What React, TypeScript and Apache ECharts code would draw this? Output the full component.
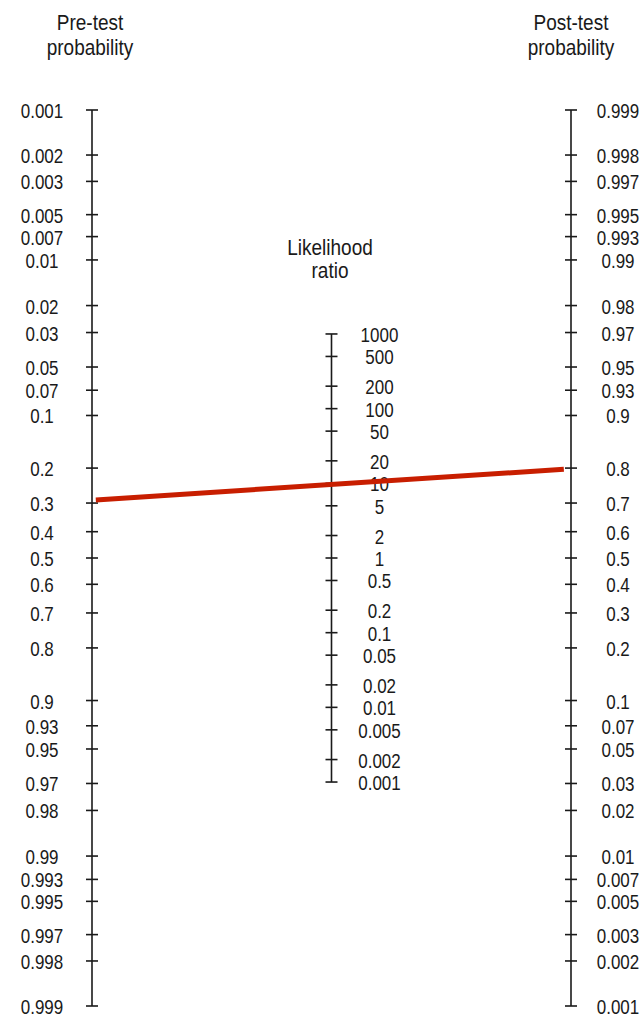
import React, { useEffect, useRef } from "react";
import * as echarts from "echarts";

// Pre-test probability ticks (left axis, top to bottom)
const PRE_TICKS = [0.001, 0.002, 0.003, 0.005, 0.007, 0.01, 0.02, 0.03, 0.05, 0.07, 0.1, 0.2, 0.3, 0.4, 0.5, 0.6, 0.7, 0.8, 0.9, 0.93, 0.95, 0.97, 0.98, 0.99, 0.993, 0.995, 0.997, 0.998, 0.999];
// Likelihood ratio ticks (middle axis, top to bottom)
const LR_TICKS = [1000, 500, 200, 100, 50, 20, 10, 5, 2, 1, 0.5, 0.2, 0.1, 0.05, 0.02, 0.01, 0.005, 0.002, 0.001];
// Post-test probability ticks (right axis, top to bottom)
const POST_TICKS = [0.999, 0.998, 0.997, 0.995, 0.993, 0.99, 0.98, 0.97, 0.95, 0.93, 0.9, 0.8, 0.7, 0.6, 0.5, 0.4, 0.3, 0.2, 0.1, 0.07, 0.05, 0.03, 0.02, 0.01, 0.007, 0.005, 0.003, 0.002, 0.001];
// The drawn line: pre-test probability and post-test probability
const PRE_TEST = 0.29;
const POST_TEST = 0.797;

const FONT = '"Liberation Sans", Arial, sans-serif';
const INK = "#1a1a1a";

const logit = (p: number) => Math.log(p / (1 - p));
const vPre = (p: number) => logit(p);
const vPost = (p: number) => -logit(p);
const vLR = (r: number) => -Math.log(r) / 2;

type Tick = { x: number; v: number; label: string; dx: number };

const ticks: Tick[] = [
  ...PRE_TICKS.map((p) => ({ x: 0, v: vPre(p), label: String(p), dx: -50 })),
  ...LR_TICKS.map((r) => ({ x: 0.5, v: vLR(r), label: String(r), dx: 48 })),
  ...POST_TICKS.map((p) => ({ x: 1, v: vPost(p), label: String(p), dx: 47 })),
];

const YMAX = logit(0.999);

const titleText = (text: string, x: number, y: number, lh: number) => ({
  type: "text",
  x,
  y,
  scaleY: 1.2,
  style: { text, align: "center", verticalAlign: "top", lineHeight: lh, fontSize: 19, fontFamily: FONT, fill: INK },
});

export default function App() {
  const ref = useRef<HTMLDivElement>(null);
  useEffect(() => {
    if (!ref.current) return;
    const chart = echarts.init(ref.current, null, { renderer: "svg" });
    const axisLine = (x: number, a: number, b: number) => ({
      type: "line",
      data: [[x, a], [x, b]],
      symbol: "none",
      silent: true,
      lineStyle: { color: INK, width: 1.6 },
      z: 2,
    });
    chart.setOption({
      animation: false,
      backgroundColor: "#ffffff",
      grid: { left: 92, right: 72, top: 110, bottom: 11 },
      xAxis: { type: "value", min: 0, max: 1, show: false },
      yAxis: { type: "value", min: -YMAX, max: YMAX, inverse: true, show: false },
      graphic: [
        titleText("Pre-test\nprobability", 90, 9, 21),
        titleText("Post-test\nprobability", 571, 9, 21),
        titleText("Likelihood\nratio", 330, 235, 19.5),
      ],
      series: [
        axisLine(0, vPre(PRE_TICKS[0]), vPre(PRE_TICKS[PRE_TICKS.length - 1])),
        axisLine(0.5, vLR(LR_TICKS[0]), vLR(LR_TICKS[LR_TICKS.length - 1])),
        axisLine(1, vPost(POST_TICKS[0]), vPost(POST_TICKS[POST_TICKS.length - 1])),
        {
          type: "custom",
          clip: false,
          silent: true,
          data: ticks.map((t) => [t.x, t.v]),
          renderItem: (params: any, api: any) => {
            const t = ticks[params.dataIndex];
            const pt = api.coord([api.value(0), api.value(1)]);
            return {
              type: "group",
              children: [
                {
                  type: "line",
                  shape: { x1: pt[0] - 6, y1: pt[1], x2: pt[0] + 6, y2: pt[1] },
                  style: { stroke: INK, lineWidth: 1.6 },
                },
                {
                  type: "text",
                  x: pt[0] + t.dx,
                  y: pt[1] + 1,
                  scaleY: 1.18,
                  style: { text: t.label, align: "center", verticalAlign: "middle", fontSize: 17, fontFamily: FONT, fill: INK },
                },
              ],
            };
          },
          z: 3,
        },
        {
          type: "line",
          data: [[0.008, vPre(PRE_TEST)], [0.985, vPost(POST_TEST)]],
          symbol: "none",
          silent: true,
          lineStyle: { color: "#c81e00", width: 5 },
          z: 5,
        },
      ],
    });
    return () => chart.dispose();
  }, []);
  return <div ref={ref} style={{ position: "fixed", left: 0, top: 0, width: 643, height: 1017 }} />;
}
